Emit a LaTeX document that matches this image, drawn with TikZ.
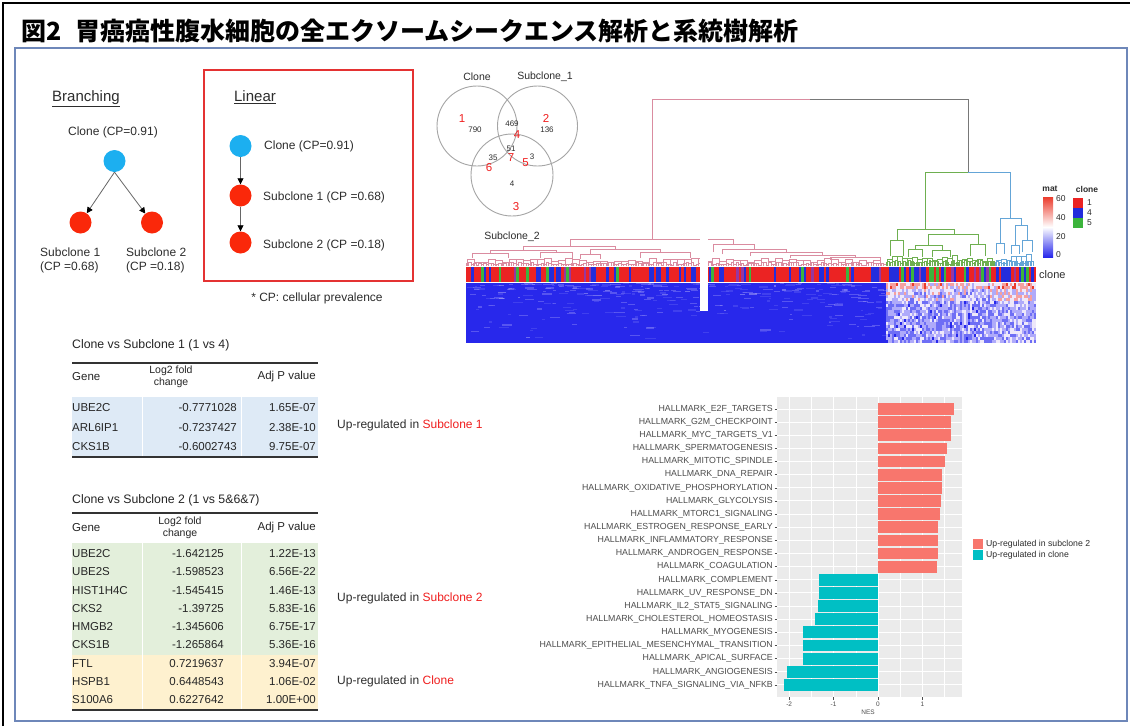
\documentclass[tikz,border=0pt]{standalone}
\usepackage{fontspec}
\setmainfont{Liberation Sans}
\newfontfamily\cjk{Noto Sans CJK JP}
\usetikzlibrary{arrows.meta}
\definecolor{cblue}{RGB}{28,175,240}
\definecolor{cred}{RGB}{250,40,10}
\definecolor{boxred}{RGB}{228,50,50}
\definecolor{frameblue}{RGB}{110,135,185}
\definecolor{txt}{RGB}{45,45,45}
\definecolor{redtxt}{RGB}{240,30,30}
\definecolor{tblue}{RGB}{222,234,246}
\definecolor{tgreen}{RGB}{227,239,219}
\definecolor{tyellow}{RGB}{254,241,207}
\definecolor{salmon}{RGB}{248,118,109}
\definecolor{cteal}{RGB}{0,191,196}
\definecolor{panel}{RGB}{235,235,235}
\definecolor{axtxt}{RGB}{77,77,77}
\definecolor{pinkd}{RGB}{218,140,160}
\definecolor{greend}{RGB}{110,175,80}
\definecolor{blued}{RGB}{100,165,215}
\definecolor{grayd}{RGB}{120,120,120}
\definecolor{vennc}{RGB}{165,165,165}
\definecolor{cb0}{RGB}{235,35,35}
\definecolor{cb1}{RGB}{35,45,220}
\definecolor{cb2}{RGB}{150,55,160}
\definecolor{cb3}{RGB}{60,180,60}
\definecolor{hm0}{RGB}{40,40,235}
\definecolor{hm1}{RGB}{110,110,245}
\definecolor{hm2}{RGB}{175,170,250}
\definecolor{hm3}{RGB}{238,232,250}
\definecolor{hm4}{RGB}{245,160,160}
\definecolor{hm5}{RGB}{235,60,45}
\newcommand{\dcomb}[7]{%
  \pgfmathtruncatemacro{\nn}{(#2-#1)/#3-1}%
  \foreach \i in {0,...,\nn}{%
    \pgfmathsetmacro{\xa}{#1+\i*#3}%
    \pgfmathsetmacro{\xb}{\xa+#3}%
    \pgfmathsetmacro{\hh}{#7-(#4+rnd*(#5-#4))}%
    \draw[#6] (\xa,#7) -- (\xa,\hh) -- (\xb,\hh) -- (\xb,#7);
  }%
}
\begin{document}
\begin{tikzpicture}[x=1pt,y=-1pt,
  lbl/.style={inner sep=0pt, text=txt, font=\fontsize{12}{14}\selectfont},
  head/.style={inner sep=0pt, text=txt, font=\fontsize{15}{17}\selectfont},
  tb/.style={inner sep=0pt, text=black!85, font=\fontsize{11.5}{13}\selectfont},
  tbh/.style={inner sep=0pt, text=black!85, font=\fontsize{10.5}{12.5}\selectfont, align=center},
  vn/.style={inner sep=0pt, text=txt, font=\fontsize{8}{9}\selectfont},
  vt/.style={inner sep=0pt, text=txt, font=\fontsize{10.5}{12}\selectfont},
  vr/.style={inner sep=0pt, text=redtxt, font=\fontsize{11.5}{12}\selectfont},
  ball/.style={circle, minimum size=22pt, inner sep=0pt},
  arr/.style={draw=black!60, line width=0.8pt, -{Triangle[length=6pt,width=6pt,color=black]}},
  venn/.style={draw=vennc, line width=0.9pt},
  pk/.style={draw=pinkd, line width=0.7pt},
  gy/.style={draw=grayd, line width=0.9pt},
  gn/.style={draw=greend, line width=0.7pt},
  bl/.style={draw=blued, line width=0.7pt},
  barlab/.style={inner sep=0pt, text=axtxt, font=\fontsize{8.8}{10}\selectfont},
  axl/.style={inner sep=0pt, text=axtxt, font=\fontsize{6.5}{7}\selectfont},
  lg/.style={inner sep=0pt, text=txt, font=\fontsize{8.7}{10}\selectfont},
  hl/.style={inner sep=0pt, text=txt, font=\fontsize{8.5}{10}\selectfont}
]
\useasboundingbox (0,0) rectangle (1130,726);
\fill[white] (0,0) rectangle (1130,726);
\pgfmathsetseed{11}
% frames
\draw[black, line width=2pt] (3,726) -- (3,3) -- (1130,3);
\draw[frameblue, line width=1.5pt] (15,48) rectangle (1127,721);
\node[anchor=west, inner sep=0pt, font=\fontsize{25}{28}\selectfont\cjk\bfseries] (title) at (21,31) {図2\hspace{0.55em}胃癌癌性腹水細胞の全エクソームシークエンス解析と系統樹解析};

% Branching
\node[head] (brh) at (86,99) {\underline{Branching}};
\node[lbl] (brc) at (113,132) {Clone (CP=0.91)};
\node[ball, fill=cblue] (b0) at (114.5,161) {};
\node[ball, fill=cred] (b1) at (80.5,222.5) {};
\node[ball, fill=cred] (b2) at (152,222.5) {};
\draw[arr] (b0.south) -- (b1);
\draw[arr] (b0.south) -- (b2);
\node[lbl, anchor=west, align=left] (b1t) at (40,260) {Subclone 1\\(CP =0.68)};
\node[lbl, anchor=west, align=left] (b2t) at (126,260) {Subclone 2\\(CP =0.18)};

% Linear
\draw[boxred, line width=1.3pt] (204,70) rectangle (413,281);
\node[head] (lih) at (255,97) {\underline{Linear}};
\node[ball, fill=cblue] (l0) at (240.5,146) {};
\node[ball, fill=cred] (l1) at (240.5,195.5) {};
\node[ball, fill=cred] (l2) at (240.5,242.5) {};
\draw[arr] (l0) -- (l1);
\draw[arr] (l1) -- (l2);
\node[lbl, anchor=west] (l0t) at (264,146) {Clone (CP=0.91)};
\node[lbl, anchor=west] (l1t) at (263,197) {Subclone 1 (CP =0.68)};
\node[lbl, anchor=west] (l2t) at (263,245) {Subclone 2 (CP =0.18)};
\node[lbl] (cpn) at (317,298) {* CP: cellular prevalence};

% Venn
\draw[venn] (477,126) circle[radius=40pt];
\draw[venn] (537.5,126) circle[radius=40pt];
\draw[venn] (512,175) circle[radius=41pt];
\node[vt] (vc) at (477,77) {Clone};
\node[vt] (vs1) at (545,77) {Subclone\_1};
\node[vt] (vs2) at (512,237) {Subclone\_2};
\node[vr] (r1) at (462,119) {1};
\node[vn] (n790) at (475,130) {790};
\node[vn] (n469) at (512,124) {469};
\node[vr] (r4) at (517,135) {4};
\node[vr] (r2) at (546,118) {2};
\node[vn] (n136) at (547,130) {136};
\node[vn] (n51) at (511,148.5) {51};
\node[vr] (r7) at (511,157.5) {7};
\node[vn] (n35) at (493,158) {35};
\node[vr] (r6) at (489,168) {6};
\node[vr] (r5) at (525.5,163) {5};
\node[vn] (n3) at (532,157) {3};
\node[vn] (n4) at (512,183.5) {4};
\node[vr] (r3) at (516,207) {3};

% Dendrogram upper structure
\draw[pk] (652,239) -- (652,99) -- (810,99);
\draw[gy] (810,99) -- (968,99) -- (968,172);
\draw[gn] (925,229) -- (925,172) -- (968,172);
\draw[bl] (968,172) -- (1010,172) -- (1010,218);
% green subtree
\draw[gn] (897,240) -- (897,229) -- (954,229) -- (954,234);
\draw[gn] (890,256) -- (890,240) -- (903,240) -- (903,256);
\draw[gn] (928,245) -- (928,234) -- (978,234) -- (978,244);
\draw[gn] (915,249) -- (915,245) -- (942,245) -- (942,250);
\draw[gn] (908,257) -- (908,249) -- (922,249) -- (922,257);
\draw[gn] (932,257) -- (932,250) -- (950,250) -- (950,257);
\draw[gn] (970,256) -- (970,244) -- (985,244) -- (985,256);
% blue subtree
\draw[bl] (1000,243) -- (1000,218) -- (1021,218) -- (1021,225);
\draw[bl] (1015,245) -- (1015,225) -- (1027,225) -- (1027,240);
\draw[bl] (1022,252) -- (1022,240) -- (1032,240) -- (1032,252);
\draw[bl] (996,254) -- (996,243) -- (1004,243) -- (1004,254);
\draw[bl] (1011,254) -- (1011,245) -- (1019,245) -- (1019,254);
% pink subtree
\draw[pk] (570,246) -- (570,239) -- (733,239) -- (733,244);
\draw[pk] (523,250) -- (523,246) -- (615,246) -- (615,249);
\draw[pk] (490,253) -- (490,250) -- (556,250) -- (556,252);
\draw[pk] (472,258) -- (472,253) -- (508,253) -- (508,258);
\draw[pk] (540,258) -- (540,252) -- (572,252) -- (572,258);
\draw[pk] (590,254) -- (590,249) -- (660,249) -- (660,252);
\draw[pk] (580,259) -- (580,254) -- (600,254) -- (600,259);
\draw[pk] (640,258) -- (640,252) -- (690,252) -- (690,258);
\draw[pk] (713,252) -- (713,244) -- (754,244) -- (754,249);
\draw[pk] (722,254) -- (722,249) -- (786,249) -- (786,252);
\draw[pk] (750,256) -- (750,252) -- (822,252) -- (822,255);
\draw[pk] (790,258) -- (790,255) -- (855,255) -- (855,257);
\draw[pk] (830,260) -- (830,257) -- (880,257) -- (880,260);
% leaf combs
\dcomb{466}{886}{2.5}{1}{4}{pk}{266}
\dcomb{467}{886}{7}{3}{8}{pk}{266}
\dcomb{886}{995}{1.6}{2}{6}{gn}{266}
\dcomb{887}{995}{5}{5}{11}{gn}{266}
\dcomb{995}{1035}{1.6}{2}{6}{bl}{266}
\dcomb{996}{1035}{5}{5}{12}{bl}{266}

% clone bar
\foreach \k in {0,...,227}{
  \pgfmathsetmacro{\xx}{466+2.5*\k}
  \pgfmathsetmacro{\rr}{rnd}
  \pgfmathtruncatemacro{\ci}{\xx<886 ? (\rr<0.6?0:(\rr<0.88?1:(\rr<0.96?2:3))) : (\xx<995 ? (\rr<0.35?0:(\rr<0.65?1:(\rr<0.85?3:2))) : (\rr<0.3?0:(\rr<0.8?1:(\rr<0.9?2:3))))}
  \fill[cb\ci] (\xx,267) rectangle (\xx+2.6,282);
}
\node[inner sep=0pt, anchor=west, text=txt, font=\fontsize{11}{12}\selectfont] (clonelab) at (1039,275) {clone};

% heatmap
\fill[hm0] (466,283) rectangle (886,343);
\begin{scope}
\clip (466,283) rectangle (886,343);
\foreach \k in {1,...,320}{
  \pgfmathsetmacro{\xx}{466+rnd*420}
  \pgfmathsetmacro{\yy}{283+58*rnd*rnd}
  \pgfmathsetmacro{\ll}{2+rnd*9}
  \pgfmathtruncatemacro{\ci}{1+floor(rnd*2.1)}
  \fill[hm\ci, opacity=0.35] (\xx,\yy) rectangle (\xx+\ll,\yy+1.2);
}
\end{scope}
\foreach \c in {0,...,74}{
  \foreach \r in {0,...,19}{
    \pgfmathsetmacro{\xx}{886+2*\c}
    \pgfmathsetmacro{\yy}{283+3*\r}
    \pgfmathsetmacro{\bb}{(\xx>995) ? (\r<2 ? 3.0 : (\r<6 ? 2.2 : 1.2)) : (\r<2 ? 2.5 : (\r<6 ? 1.7 : 0.9))}
    \pgfmathtruncatemacro{\ci}{max(0,min(5,floor(rnd*2.6+\bb)))}
    \fill[hm\ci] (\xx,\yy) rectangle (\xx+2.2,\yy+3.2);
  }
}
\fill[white] (700,236) rectangle (708,311);

% heatmap legends
\node[hl, font=\fontsize{8.5}{10}\selectfont\bfseries] (matt) at (1050,189) {mat};
\shade[top color=hm5, bottom color=hm0, middle color=white] (1043,197) rectangle (1053,257);
\node[hl, anchor=west] (m60) at (1056,199) {60};
\node[hl, anchor=west] (m40) at (1056,218) {40};
\node[hl, anchor=west] (m20) at (1056,237) {20};
\node[hl, anchor=west] (m0) at (1056,255) {0};
\node[hl, font=\fontsize{8.5}{10}\selectfont\bfseries] (clt) at (1087,189) {clone};
\fill[cb0] (1073,198) rectangle (1083,208);
\fill[cb1] (1073,208) rectangle (1083,218);
\fill[cb3] (1073,218) rectangle (1083,228);
\node[hl, anchor=west] (c1) at (1087,203) {1};
\node[hl, anchor=west] (c4) at (1087,213) {4};
\node[hl, anchor=west] (c5) at (1087,223) {5};

% Table 1
\node[tb, anchor=west, font=\fontsize{12.3}{14}\selectfont] (t1t) at (72,345) {Clone vs Subclone 1 (1 vs 4)};
\draw[black!80, line width=1.5pt] (72,363) -- (318,363);
\fill[tblue] (72,397) rectangle (318,456);
\draw[white, line width=0.8pt] (142,397) -- (142,456);
\draw[white, line width=0.8pt] (241,397) -- (241,456);
\node[tb, anchor=west] (t1g) at (72,377) {Gene};
\node[tbh] (t1l) at (171,377) {Log2 fold\\change};
\node[tb, anchor=east] (t1a) at (316,377) {Adj P value};
\foreach [count=\i from 0] \g/\l/\p in {UBE2C/-0.7771028/1.65E-07, ARL6IP1/-0.7237427/2.38E-10, CKS1B/-0.6002743/9.75E-07}{
  \pgfmathsetmacro{\yy}{408+19.5*\i}
  \node[tb, anchor=west] (t1g\i) at (72,\yy) {\g};
  \node[tb, anchor=east] (t1l\i) at (237,\yy) {\l};
  \node[tb, anchor=east] (t1p\i) at (316,\yy) {\p};
}
\draw[black!80, line width=1.5pt] (72,457) -- (318,457);
\node[lbl, anchor=west] (up1) at (337,425) {Up-regulated in \textcolor{redtxt}{Subclone 1}};

% Table 2
\node[tb, anchor=west, font=\fontsize{12.3}{14}\selectfont] (t2t) at (72,500) {Clone vs Subclone 2 (1 vs 5\&6\&7)};
\draw[black!80, line width=1.5pt] (72,513) -- (318,513);
\fill[tgreen] (72,543) rectangle (318,655);
\fill[tyellow] (72,655) rectangle (318,709);
\draw[white, line width=0.8pt] (142,543) -- (142,709);
\draw[white, line width=0.8pt] (241,543) -- (241,709);
\node[tb, anchor=west] (t2g) at (72,528) {Gene};
\node[tbh] (t2l) at (180,528) {Log2 fold\\change};
\node[tb, anchor=east] (t2a) at (316,528) {Adj P value};
\foreach [count=\i from 0] \g/\l/\p in {UBE2C/-1.642125/1.22E-13, UBE2S/-1.598523/6.56E-22, HIST1H4C/-1.545415/1.46E-13, CKS2/-1.39725/5.83E-16, HMGB2/-1.345606/6.75E-17, CKS1B/-1.265864/5.36E-16, FTL/0.7219637/3.94E-07, HSPB1/0.6448543/1.06E-02, S100A6/0.6227642/1.00E+00}{
  \pgfmathsetmacro{\yy}{553.5+18.3*\i}
  \node[tb, anchor=west] (t2g\i) at (72,\yy) {\g};
  \node[tb, anchor=east] (t2l\i) at (224,\yy) {\l};
  \node[tb, anchor=east] (t2p\i) at (316,\yy) {\p};
}
\draw[black!80, line width=1.5pt] (72,710) -- (318,710);
\node[lbl, anchor=west] (up2) at (337,598) {Up-regulated in \textcolor{redtxt}{Subclone 2}};
\node[lbl, anchor=west] (up3) at (337,681) {Up-regulated in \textcolor{redtxt}{Clone}};

% Bar chart
\fill[panel] (777,397) rectangle (962,697);
\foreach \v in {-1.5,-0.5,0.5,1.5}{
  \draw[white, line width=0.5pt] ({878+44.4*\v},397) -- ({878+44.4*\v},697);
}
\foreach \v in {-2,-1,0,1}{
  \draw[white, line width=1pt] ({878+44.4*\v},397) -- ({878+44.4*\v},697);
  \draw[axtxt, line width=0.5pt] ({878+44.4*\v},697) -- ({878+44.4*\v},699.5);
  \node[axl] (tick\v) at ({878+44.4*\v},704) {\v};
}
\node[axl] (nes) at (868,712) {NES};
\foreach [count=\i from 0] \lab/\v in {
  HALLMARK\_E2F\_TARGETS/1.71,
  HALLMARK\_G2M\_CHECKPOINT/1.64,
  HALLMARK\_MYC\_TARGETS\_V1/1.64,
  HALLMARK\_SPERMATOGENESIS/1.56,
  HALLMARK\_MITOTIC\_SPINDLE/1.51,
  HALLMARK\_DNA\_REPAIR/1.43,
  HALLMARK\_OXIDATIVE\_PHOSPHORYLATION/1.43,
  HALLMARK\_GLYCOLYSIS/1.41,
  HALLMARK\_MTORC1\_SIGNALING/1.39,
  HALLMARK\_ESTROGEN\_RESPONSE\_EARLY/1.36,
  HALLMARK\_INFLAMMATORY\_RESPONSE/1.36,
  HALLMARK\_ANDROGEN\_RESPONSE/1.35,
  HALLMARK\_COAGULATION/1.33,
  HALLMARK\_COMPLEMENT/-1.33,
  HALLMARK\_UV\_RESPONSE\_DN/-1.34,
  HALLMARK\_IL2\_STAT5\_SIGNALING/-1.36,
  HALLMARK\_CHOLESTEROL\_HOMEOSTASIS/-1.43,
  HALLMARK\_MYOGENESIS/-1.70,
  HALLMARK\_EPITHELIAL\_MESENCHYMAL\_TRANSITION/-1.70,
  HALLMARK\_APICAL\_SURFACE/-1.70,
  HALLMARK\_ANGIOGENESIS/-2.06,
  HALLMARK\_TNFA\_SIGNALING\_VIA\_NFKB/-2.12}{
  \pgfmathsetmacro{\yy}{409+13.14*\i}
  \draw[white, line width=1pt] (777,\yy) -- (962,\yy);
  \node[barlab, anchor=east] (bl\i) at (773,\yy) {\lab};
  \draw[axtxt, line width=0.5pt] (774.5,\yy) -- (777,\yy);
  \pgfmathsetmacro{\xe}{878+44.4*\v}
  \pgfmathtruncatemacro{\pos}{\v>0}
  \ifnum\pos=1
    \fill[salmon] (878,\yy-5.9) rectangle (\xe,\yy+5.9);
  \else
    \fill[cteal] (\xe,\yy-5.9) rectangle (878,\yy+5.9);
  \fi
}
\fill[salmon] (973,539) rectangle (983,549);
\fill[cteal] (973,550) rectangle (983,560);
\node[lg, anchor=west] (lg1) at (986,544) {Up-regulated in subclone 2};
\node[lg, anchor=west] (lg2) at (986,555) {Up-regulated in clone};
\end{tikzpicture}
\end{document}
